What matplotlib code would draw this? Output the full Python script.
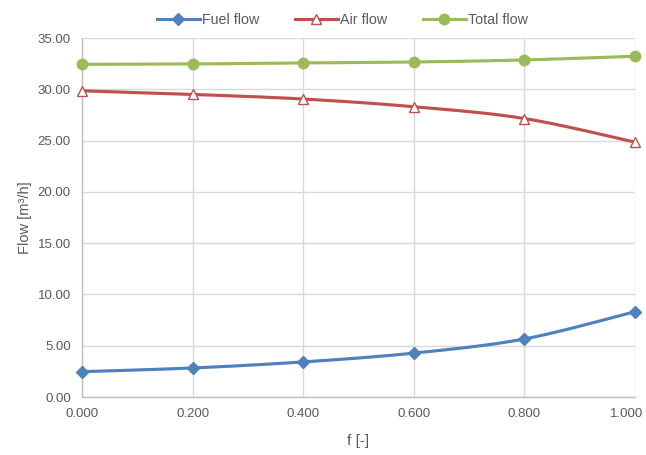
import numpy as np
import matplotlib
matplotlib.use("Agg")
import matplotlib.pyplot as plt
from matplotlib.transforms import ScaledTranslation

f_values = [0.0, 0.2, 0.4, 0.6, 0.8, 1.0]
fuel_flow = [2.47, 2.83, 3.42, 4.28, 5.66, 8.32]
air_flow = [29.85, 29.50, 29.05, 28.30, 27.15, 24.85]
total_flow = [32.43, 32.47, 32.57, 32.66, 32.86, 33.22]
x_ticks = [0.0, 0.2, 0.4, 0.6, 0.8, 1.0]
y_ticks = [0, 5, 10, 15, 20, 25, 30, 35]

plt.rcParams['font.family'] = ['Liberation Sans', 'DejaVu Sans']


def smooth(x, y, n=30):
    x = np.asarray(x, float)
    y = np.asarray(y, float)
    px = np.concatenate([[x[0]], x, [x[-1]]])
    py = np.concatenate([[y[0]], y, [y[-1]]])
    xs, ys = [], []
    t = np.linspace(0, 1, n)
    for i in range(1, len(px) - 2):
        p0 = np.array([px[i], py[i]])
        p3 = np.array([px[i + 1], py[i + 1]])
        c1 = p0 + (np.array([px[i + 1], py[i + 1]]) - np.array([px[i - 1], py[i - 1]])) / 6
        c2 = p3 - (np.array([px[i + 2], py[i + 2]]) - np.array([px[i], py[i]])) / 6
        b = ((1 - t) ** 3)[:, None] * p0 + (3 * (1 - t) ** 2 * t)[:, None] * c1 \
            + (3 * (1 - t) * t ** 2)[:, None] * c2 + (t ** 3)[:, None] * p3
        xs.extend(b[:, 0])
        ys.extend(b[:, 1])
    return xs, ys


fig = plt.figure(figsize=(6.46, 4.55), dpi=100)
ax = fig.add_axes([82 / 646, 1 - 397 / 455, (635 - 82) / 646, (397 - 38) / 455])

series = [
    ("Fuel flow", fuel_flow, "#4f81bd", dict(marker="D", markersize=6, markerfacecolor="#4f81bd", markeredgecolor="#4f81bd")),
    ("Air flow", air_flow, "#c0504d", dict(marker="^", markersize=7.5, markerfacecolor="white", markeredgecolor="#c0504d", markeredgewidth=1.0)),
    ("Total flow", total_flow, "#9bbb59", dict(marker="o", markersize=7.5, markerfacecolor="#9bbb59", markeredgecolor="#9bbb59")),
]

handles = []
for name, vals, color, mk in series:
    sx, sy = smooth(f_values, vals)
    ax.plot(sx, sy, color=color, lw=2.25, solid_capstyle="round", zorder=3)
    ax.plot(f_values, vals, linestyle="none", zorder=4, clip_on=False, **mk)
    h, = ax.plot([], [], color=color, lw=2.25, **mk)
    h.set_label(name)
    handles.append(h)

ax.set_xlim(0, 1.0)
ax.set_ylim(0, 35)
ax.set_xticks(x_ticks)
ax.set_yticks(y_ticks)
ax.set_xticklabels([f"{v:.3f}" for v in x_ticks])
ax.set_yticklabels([f"{v:.2f}" for v in y_ticks])
ax.grid(True, color="#d9d9d9", lw=1.0, zorder=0)
ax.set_axisbelow(True)
for s in ["top", "right"]:
    ax.spines[s].set_visible(False)
for s in ["left", "bottom"]:
    ax.spines[s].set_color("#bfbfbf")
    ax.spines[s].set_linewidth(1.0)
ax.tick_params(axis="both", length=0, labelsize=9.5, colors="#595959", pad=8)
# shift last x tick label left so it fits inside the figure, as in the reference
last = ax.get_xticklabels()[-1]
last.set_transform(last.get_transform() + ScaledTranslation(-8 / 100, 0, fig.dpi_scale_trans))
ax.set_xlabel("f [-]", fontsize=11, color="#595959", labelpad=10)
ax.set_ylabel("Flow [m³/h]", fontsize=10.5, color="#595959", labelpad=4)

fig.legend(handles=handles, loc="upper center", bbox_to_anchor=(0.53, 1.0), ncol=3,
           frameon=False, fontsize=10.3, handlelength=3, columnspacing=2.5, handletextpad=0.15,
           labelcolor="#595959")

fig.savefig("out.png", dpi=100)
